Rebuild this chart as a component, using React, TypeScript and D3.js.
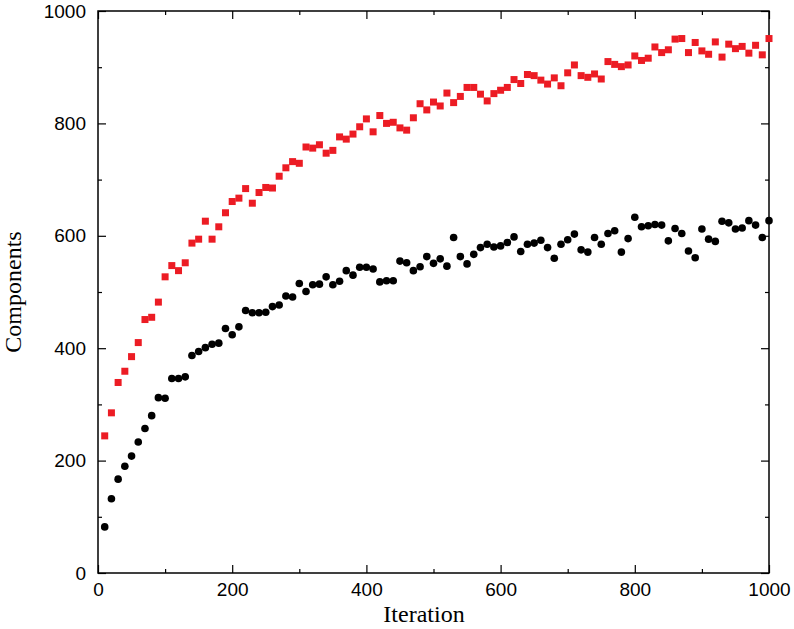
import React, { useEffect, useRef } from 'react';
import * as d3 from 'd3';

// iterations sampled every 10 steps
const iterations: number[] = d3.range(10, 1001, 10);

// red squares
const upperSeries: number[] = [
  244, 285, 339, 359, 385, 410, 451, 455, 482, 527,
  547, 538, 552, 587, 594, 626, 594, 616, 641, 661,
  667, 684, 658, 677, 686, 685, 706, 721, 732, 729,
  758, 756, 762, 747, 752, 776, 772, 781, 794, 808,
  785, 814, 800, 802, 792, 788, 810, 835, 824, 838,
  831, 854, 837, 848, 864, 864, 852, 840, 853, 859,
  864, 878, 871, 887, 885, 877, 870, 881, 867, 890,
  904, 885, 882, 888, 879, 910, 905, 901, 904, 920,
  912, 916, 936, 926, 931, 950, 951, 926, 944, 929,
  923, 945, 918, 941, 933, 937, 925, 939, 922, 951,
];

// black circles
const lowerSeries: number[] = [
  82, 132, 167, 190, 208, 233, 257, 280, 312, 311,
  346, 346, 349, 387, 394, 401, 407, 409, 435, 424,
  438, 467, 463, 463, 464, 474, 477, 493, 491, 515,
  501, 513, 514, 527, 513, 519, 538, 530, 544, 544,
  541, 518, 520, 520, 555, 552, 538, 545, 563, 551,
  559, 546, 597, 563, 550, 567, 579, 585, 580, 582,
  588, 598, 572, 585, 587, 592, 579, 560, 585, 593,
  603, 575, 571, 597, 585, 604, 609, 571, 595, 633,
  616, 618, 620, 619, 591, 613, 604, 573, 561, 612,
  594, 590, 626, 623, 612, 614, 627, 619, 597, 627,
];

const majorTicks: number[] = [0, 200, 400, 600, 800, 1000];
const minorTicks: number[] = [100, 300, 500, 700, 900];

export default function App() {
  const ref = useRef<SVGSVGElement>(null);

  useEffect(() => {
    const width = 794;
    const height = 629;
    const marginLeft = 98;
    const marginRight = 25;
    const marginTop = 11;
    const marginBottom = 56;
    const majorLen = 8;
    const minorLen = 4;

    const svg = d3.select(ref.current)
      .attr('width', width)
      .attr('height', height);
    svg.selectAll('*').remove();

    const x = d3.scaleLinear().domain([0, 1000]).range([marginLeft, width - marginRight]);
    const y = d3.scaleLinear().domain([0, 1000]).range([height - marginBottom, marginTop]);

    const labelFont = '"Liberation Sans", Arial, sans-serif';
    const titleFont = '"Liberation Serif", "Times New Roman", serif';

    const styleAxis = (g: any) => {
      g.select('.domain').remove();
      g.selectAll('.tick line').attr('stroke', '#000').attr('stroke-width', 1.2);
      g.selectAll('.tick text')
        .attr('font-family', labelFont)
        .attr('font-size', 19)
        .attr('fill', '#000');
    };

    const blank = () => '';

    // bottom / left with labels, top / right mirrored, ticks pointing inward
    svg.append('g')
      .attr('transform', `translate(0,${y(0)})`)
      .call(d3.axisBottom(x).tickValues(majorTicks).tickSize(-majorLen).tickPadding(10).tickFormat(d3.format('d')))
      .call(styleAxis);
    svg.append('g')
      .attr('transform', `translate(0,${y(0)})`)
      .call(d3.axisBottom(x).tickValues(minorTicks).tickSize(-minorLen).tickFormat(blank))
      .call(styleAxis);
    svg.append('g')
      .attr('transform', `translate(0,${y(1000)})`)
      .call(d3.axisTop(x).tickValues(majorTicks).tickSize(-majorLen).tickFormat(blank))
      .call(styleAxis);
    svg.append('g')
      .attr('transform', `translate(0,${y(1000)})`)
      .call(d3.axisTop(x).tickValues(minorTicks).tickSize(-minorLen).tickFormat(blank))
      .call(styleAxis);

    svg.append('g')
      .attr('transform', `translate(${x(0)},0)`)
      .call(d3.axisLeft(y).tickValues(majorTicks).tickSize(-majorLen).tickPadding(12).tickFormat(d3.format('d')))
      .call(styleAxis);
    svg.append('g')
      .attr('transform', `translate(${x(0)},0)`)
      .call(d3.axisLeft(y).tickValues(minorTicks).tickSize(-minorLen).tickFormat(blank))
      .call(styleAxis);
    svg.append('g')
      .attr('transform', `translate(${x(1000)},0)`)
      .call(d3.axisRight(y).tickValues(majorTicks).tickSize(-majorLen).tickFormat(blank))
      .call(styleAxis);
    svg.append('g')
      .attr('transform', `translate(${x(1000)},0)`)
      .call(d3.axisRight(y).tickValues(minorTicks).tickSize(-minorLen).tickFormat(blank))
      .call(styleAxis);

    // frame
    svg.append('rect')
      .attr('x', x(0))
      .attr('y', y(1000))
      .attr('width', x(1000) - x(0))
      .attr('height', y(0) - y(1000))
      .attr('fill', 'none')
      .attr('stroke', '#000')
      .attr('stroke-width', 1.5);

    const sq = 7;
    svg.append('g')
      .selectAll('rect')
      .data(iterations)
      .join('rect')
      .attr('x', (d) => x(d) - sq / 2)
      .attr('y', (d, i) => y(upperSeries[i]) - sq / 2)
      .attr('width', sq)
      .attr('height', sq)
      .attr('fill', '#ec1c24');

    svg.append('g')
      .selectAll('circle')
      .data(iterations)
      .join('circle')
      .attr('cx', (d) => x(d))
      .attr('cy', (d, i) => y(lowerSeries[i]))
      .attr('r', 3.8)
      .attr('fill', '#000');

    svg.append('text')
      .attr('x', 424)
      .attr('y', 622)
      .attr('text-anchor', 'middle')
      .attr('font-family', titleFont)
      .attr('font-size', 24)
      .text('Iteration');

    svg.append('text')
      .attr('transform', `translate(21,${(y(0) + y(1000)) / 2}) rotate(-90)`)
      .attr('text-anchor', 'middle')
      .attr('font-family', titleFont)
      .attr('font-size', 24)
      .text('Components');
  }, []);

  return (
    <div style={{ position: 'absolute', left: 0, top: 0 }}>
      <svg ref={ref}></svg>
    </div>
  );
}
